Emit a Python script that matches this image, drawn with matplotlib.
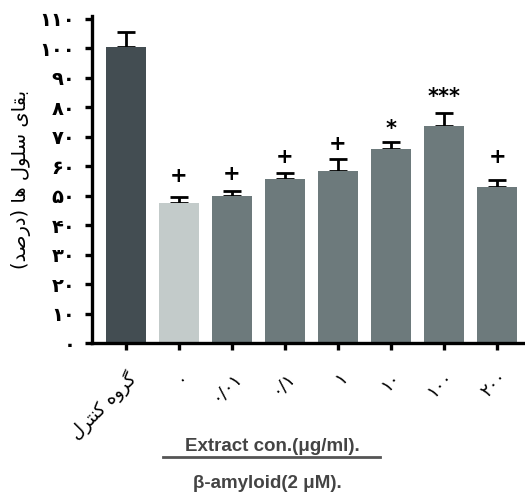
import matplotlib
matplotlib.use("Agg")
import matplotlib.pyplot as plt
import matplotlib.transforms as mtransforms
from matplotlib.lines import Line2D
import numpy as np

# Persian labels, already in visual (left-to-right) order with joined letter forms
groups = [
    "\ufedd\ufeae\ufe98\ufee8\ufb90 \ufee9\ufeed\ufeae\ufb94",  # control group
    "\u06f0",
    "\u06f0/\u06f0\u06f1",
    "\u06f0/\u06f1",
    "\u06f1",
    "\u06f1\u06f0",
    "\u06f1\u06f0\u06f0",
    "\u06f2\u06f0\u06f0",
]
means = [100.5, 47.4, 50.0, 55.8, 58.4, 65.9, 73.7, 53.1]
errors = [5.0, 2.0, 1.6, 2.0, 4.0, 2.4, 4.5, 2.2]
marks = ["", "+", "+", "+", "+", "*", "***", "+"]
mark_y = [0, 56.5, 57.4, 63.2, 67.6, 72.6, 83.4, 63.2]
colors = ["#434d52", "#c3cbca", "#6d7a7c", "#6d7a7c", "#6d7a7c",
          "#6d7a7c", "#6d7a7c", "#6d7a7c"]

yticks = list(range(0, 111, 10))
persian = str.maketrans("0123456789", "\u06f0\u06f1\u06f2\u06f3\u06f4\u06f5\u06f6\u06f7\u06f8\u06f9")
ytick_labels = [str(v).translate(persian) for v in yticks]

ylabel = ("(\ufeaa\ufebb\ufead\ufea9) \ufe8e\ufeeb "
          "\ufedd\ufeee\ufee0\ufeb3 \ufeef\ufe8e\ufed8\ufe91")

fig = plt.figure(figsize=(5.25, 4.95), dpi=100)
ax = fig.add_axes([0.175, 0.307, 0.825, 0.661])

x = np.arange(len(means))
ax.bar(x, means, width=0.75, color=colors, zorder=2)
ax.errorbar(x, means, yerr=[np.zeros(len(errors)), errors], fmt="none",
            ecolor="black", elinewidth=2, capsize=6.5, capthick=2, zorder=1)

for xi, m, yy in zip(x, marks, mark_y):
    if m:
        ax.text(xi, yy, m, ha="center", va="center", fontsize=15,
                fontweight="bold", color="black")

ax.set_xlim(-0.635, 7.52)
ax.set_ylim(0, 111)
ax.set_yticks(yticks)
ax.set_yticklabels(ytick_labels, fontsize=14, fontweight="bold", family="DejaVu Sans")
ax.set_xticks(x)
ax.set_xticklabels(groups, fontsize=13, rotation=45, ha="right",
                   rotation_mode="anchor", family="DejaVu Sans")
offset = mtransforms.ScaledTranslation(12 / 100, 0, fig.dpi_scale_trans)
for lab in ax.get_xticklabels():
    lab.set_transform(lab.get_transform() + offset)

for side in ["top", "right"]:
    ax.spines[side].set_visible(False)
for side in ["left", "bottom"]:
    ax.spines[side].set_linewidth(2.4)
ax.tick_params(axis="both", direction="out", length=5, width=2.4, color="black")
ax.tick_params(axis="y", pad=7)
ax.tick_params(axis="x", pad=13)

ax.set_ylabel(ylabel, fontsize=14, family="DejaVu Sans", labelpad=6)

fig.text(0.518, 0.097, "Extract con.(\u03bcg/ml).", ha="center", va="center",
         fontsize=13.5, fontweight="bold", color="#444444", family="Liberation Sans")
fig.add_artist(Line2D([0.31, 0.724], [0.077, 0.077], transform=fig.transFigure,
                      color="#555555", linewidth=2))
fig.text(0.509, 0.024, "\u03b2-amyloid(2 \u03bcM).", ha="center", va="center",
         fontsize=13.5, fontweight="bold", color="#444444", family="Liberation Sans")

fig.savefig("out.png", dpi=100)
